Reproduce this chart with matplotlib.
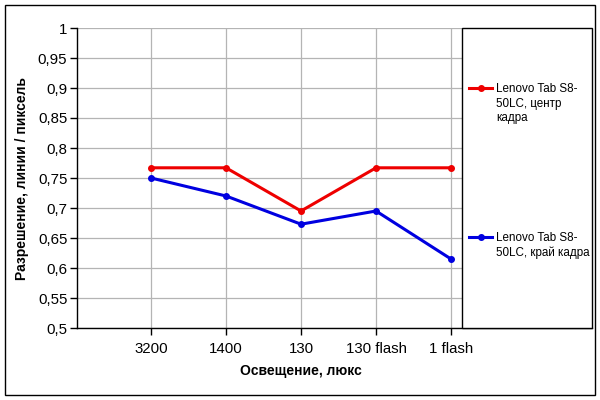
import matplotlib.pyplot as plt
from matplotlib.patches import Rectangle
from matplotlib.lines import Line2D
from matplotlib.ticker import FuncFormatter

plt.rcParams['font.family'] = ['Liberation Sans', 'DejaVu Sans']

categories = ['3200', '1400', '130', '130 flash', '1 flash']
center_vals = [0.767, 0.767, 0.695, 0.767, 0.767]
edge_vals = [0.75, 0.72, 0.673, 0.695, 0.615]
center_label = 'Lenovo Tab S8-\n50LC, центр\nкадра'
edge_label = 'Lenovo Tab S8-\n50LC, край кадра'

red = '#ee0000'
blue = '#0000e0'

fig = plt.figure(figsize=(6, 4), dpi=100)
ax = fig.add_axes([77 / 600, 72 / 400, 515 / 600, 300 / 400])

x = list(range(len(categories)))
ax.plot(x, center_vals, color=red, lw=2.2, marker='o', ms=4, zorder=3)
ax.plot(x, edge_vals, color=blue, lw=2.2, marker='o', ms=4, zorder=3)

ax.set_xlim(-0.987, 5.88)
ax.set_ylim(0.5, 1.0)
ax.set_yticks([0.5 + 0.05 * i for i in range(11)])
ax.yaxis.set_major_formatter(FuncFormatter(lambda v, p: ('%g' % round(v, 2)).replace('.', ',')))
ax.set_xticks(x)
ax.set_xticklabels(categories)
ax.grid(True, color='#b4b4b4', lw=0.9)
ax.set_axisbelow(True)
ax.tick_params(axis='both', direction='out', length=5, width=1, labelsize=10.8, color='black')
ax.tick_params(axis='x', pad=5)
ax.tick_params(axis='y', pad=2)
for s in ['top', 'right']:
    ax.spines[s].set_visible(False)
for s in ['left', 'bottom']:
    ax.spines[s].set_linewidth(1)

ax.set_ylabel('Разрешение, линии / пиксель', fontsize=10, fontweight='bold', labelpad=6)
fig.text(301 / 600, 1 - 371 / 400, 'Освещение, люкс', fontsize=10, fontweight='bold',
         ha='center', va='center')

# legend box drawn over right part of the plot area
lx0 = (462 - 77) / 515
ax.add_patch(Rectangle((lx0, 0), 1 - lx0, 1, transform=ax.transAxes,
                       facecolor='white', edgecolor='black', lw=1, zorder=5, clip_on=False))
for col, ly, txt in [(red, 88, center_label), (blue, 237, edge_label)]:
    yy = (328 - ly) / 300
    ax.add_line(Line2D([0.761, 0.806], [yy, yy], transform=ax.transAxes, color=col,
                       lw=2.2, zorder=6, clip_on=False))
    ax.add_line(Line2D([0.7835], [yy], transform=ax.transAxes, color=col, marker='o',
                       ms=4, zorder=6, clip_on=False))
    ax.text(0.8136, (328 - (ly - 5)) / 300, txt, transform=ax.transAxes, fontsize=8.4,
            va='top', ha='left', zorder=7, linespacing=1.3)

# outer chart border
fig.add_artist(Rectangle((5 / 600, 5 / 400), 590 / 600, 390 / 400, transform=fig.transFigure,
                         facecolor='none', edgecolor='black', lw=1))

fig.savefig('out.png', dpi=100)
